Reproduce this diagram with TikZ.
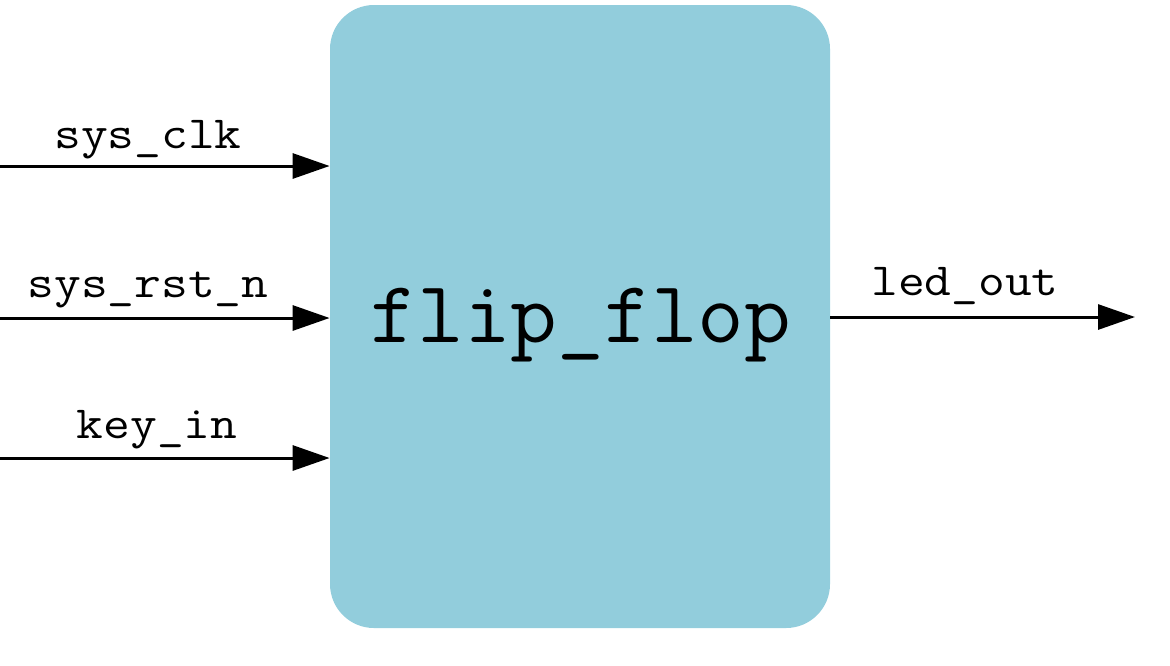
\documentclass[tikz,border=0pt]{standalone}
\usetikzlibrary{arrows.meta}
\definecolor{boxfill}{HTML}{92CDDC}
\begin{document}
\begin{tikzpicture}[x=0.5pt,y=-0.5pt,
  sig/.style={line width=1.5pt,-{Triangle[length=18.5pt,width=12.5pt]}},
  lbl/.style={anchor=base,inner sep=0pt,font=\ttfamily\fontsize{23}{23}\selectfont},
  blk/.style={draw=none,fill=boxfill,rounded corners=22pt,minimum width=250pt,minimum height=311.5pt,inner sep=0pt}]
\useasboundingbox (0,0) rectangle (1170,665);
\node[blk] (ff) at (580,316.5) {};
\node[anchor=base,inner sep=0pt,font=\ttfamily\fontsize{44}{44}\selectfont] (title) at (581,342) {\scalebox{1.03}[1]{flip\_flop}};
\coordinate (i1) at (0,166);
\coordinate (i2) at (0,318);
\coordinate (i3) at (0,458);
\coordinate (o1) at (1135,317);
\draw[sig] (i1) -- (i1 -| ff.west);
\draw[sig] (i2) -- (i2 -| ff.west);
\draw[sig] (i3) -- (i3 -| ff.west);
\draw[sig] (o1 -| ff.east) -- (o1);
\node[lbl] (l1) at (148,148) {\scalebox{1.13}[1]{sys\_clk}};
\node[lbl] (l2) at (148,297) {\scalebox{1.13}[1]{sys\_rst\_n}};
\node[lbl] (l3) at (157,438) {\scalebox{1.13}[1]{key\_in}};
\node[lbl] (l4) at (965,295) {\scalebox{1.13}[1]{led\_out}};
\end{tikzpicture}
\end{document}
